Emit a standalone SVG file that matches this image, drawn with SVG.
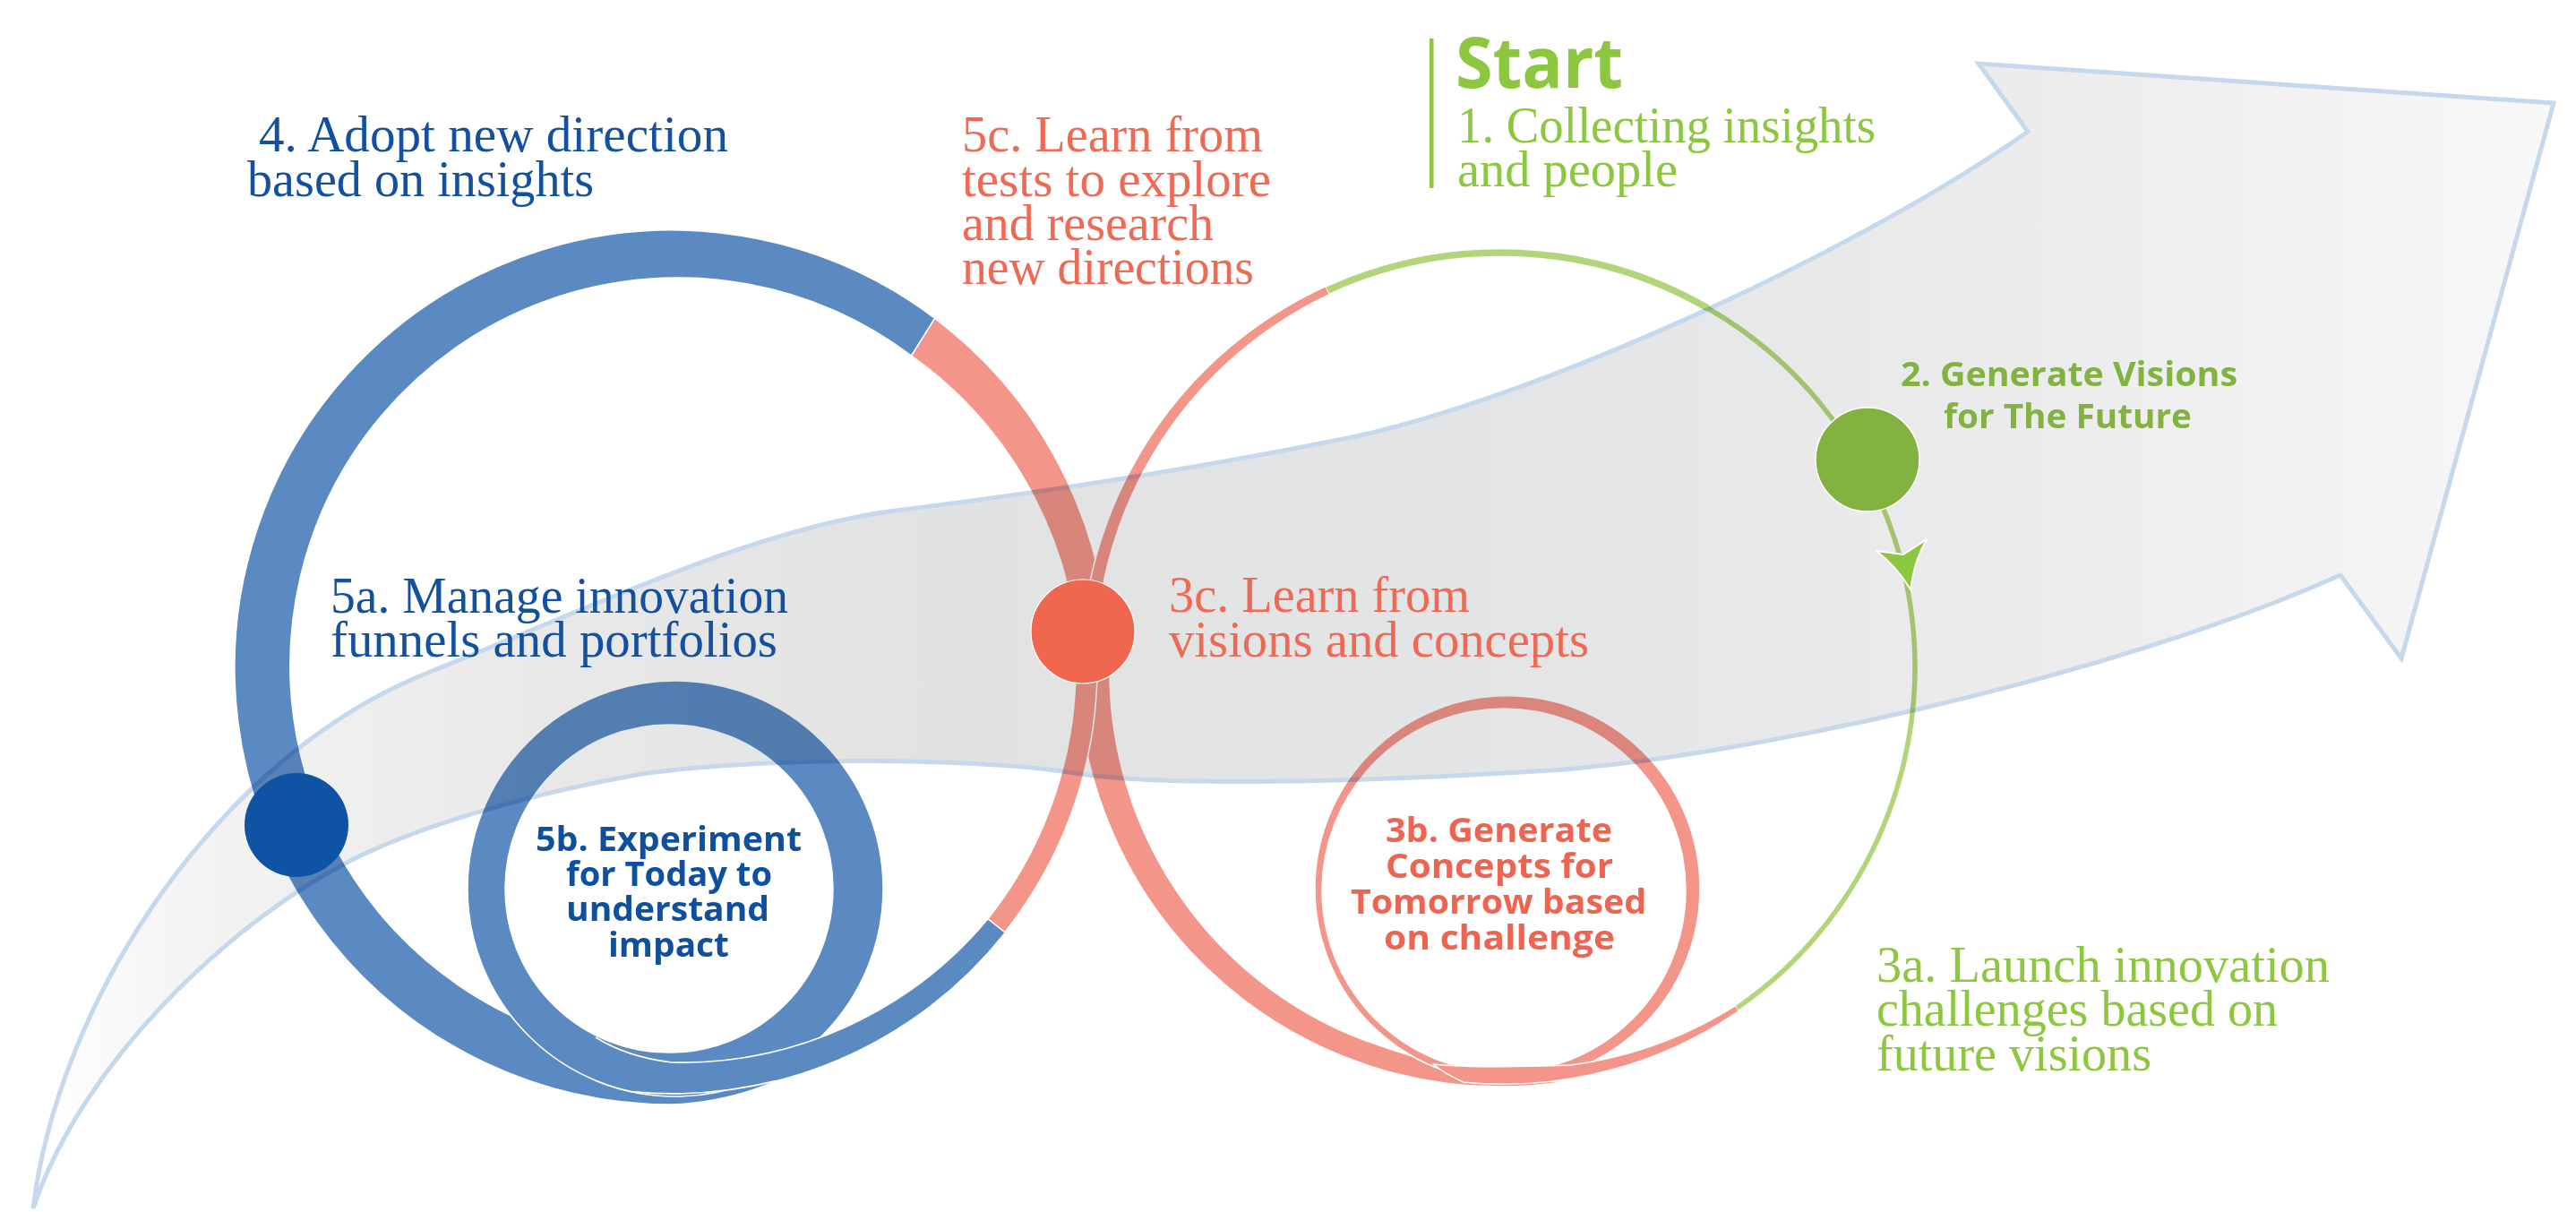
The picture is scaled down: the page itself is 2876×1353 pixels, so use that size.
<svg xmlns="http://www.w3.org/2000/svg" width="2876" height="1353" viewBox="0 0 2876 1353">
  <defs>
    <linearGradient id="arrowFill" gradientUnits="userSpaceOnUse" x1="37" y1="0" x2="2851" y2="0">
      <stop offset="0" stop-color="#ffffff"/>
      <stop offset="0.06" stop-color="#f4f4f4"/>
      <stop offset="0.2" stop-color="#e9e9ea"/>
      <stop offset="0.36" stop-color="#e1e2e2"/>
      <stop offset="0.6" stop-color="#e4e5e6"/>
      <stop offset="0.8" stop-color="#ececed"/>
      <stop offset="1" stop-color="#f8f8f8"/>
    </linearGradient>
  </defs>
  <style>
    .band { stroke: #ffffff; stroke-width: 1.5; stroke-linejoin: round; }
    .blue { fill: #5b8ac2; }
    .red { fill: #f4958a; }
    .seam { fill: none; stroke: #ffffff; stroke-width: 1.6; }
    .green-line { fill: none; stroke: #b2d57a; }
    .serif { font-family: 'Liberation Serif', 'Times New Roman', serif; font-size: 57px; }
    .label { font-family: 'Open Sans', 'Liberation Sans', sans-serif; font-weight: 700; font-size: 38px; }
    .title { font-family: 'Open Sans', 'Liberation Sans', sans-serif; font-weight: 700; font-size: 78px; }
    .t-blue { fill: #13509f; }
    .t-red { fill: #ee6a55; }
    .t-green { fill: #8dc63f; }
  </style>

  <rect width="2876" height="1353" fill="#ffffff"/>

  <!-- figure-eight loop and inner rings -->
  <g id="connectors">
    <!-- thick strand: left loop (blue), upper right (red) -->
    <path id="loop-left-outer" class="band blue" d="M1043.7,355.3 A488,488 0 1 0 750,1233 Q810,1231 866,1207 L832,1169.4 A433,433 0 1 1 1017.6,397.2 Z"/>
    <path id="loop-left-upper-red" class="band red" d="M1043.7,355.3 A488,488 0 0 1 1237.7,762 L1204.7,760.9 A445,445 0 0 0 1017.6,397.2 Z"/>
    <!-- thick strand continues on the right loop, lower left -->
    <path id="loop-right-lower-red" class="band red" d="M1203,741 A472,472 0 0 0 1748.8,1207.2 Q1655,1209 1523.5,1161.3 A440,440 0 0 1 1239,745 Z"/>

    <!-- inner rings -->
    <path id="ring-5b" class="band blue" fill-rule="evenodd" d="M522,992 A232,232 0 1 0 986,992 A232,232 0 1 0 522,992 Z M564,992 A183,183 0 1 0 930,992 A183,183 0 1 0 564,992 Z"/>
    <path id="ring-3b" class="band red" fill-rule="evenodd" d="M1468,992 A215,215 0 1 0 1898,992 A215,215 0 1 0 1468,992 Z M1476,994 A203,203 0 1 0 1882,994 A203,203 0 1 0 1476,994 Z"/>

    <!-- thin strand: left loop lower right -->
    <path id="loop-left-lower-blue" class="blue" d="M1121.7,1040.7 A475,475 0 0 1 705,1218.6 A232,232 0 0 1 665,1206.2 L665,1158 Q700,1180 750,1186 A446,446 0 0 0 1102.9,1025.7 Z"/>
    <path class="seam" d="M665,1158 Q700,1180 750,1186 A446,446 0 0 0 1102.9,1025.7"/>
    <path class="seam" d="M665,1206.2 A232,232 0 0 0 705,1218.6 A475,475 0 0 0 866,1206.6"/>
    <path id="loop-left-lower-red" class="band red" d="M1224.7,728.4 A475,475 0 0 1 1121.7,1040.7 L1102.9,1025.7 A451,451 0 0 0 1200.7,729.3 Z"/>

    <!-- thin strand: right loop upper left (red), top and right side (green), bottom (red) -->
    <path id="loop-right-upper-red" class="band red" d="M1207.3,728.7 A468,468 0 0 1 1480.2,319.5 L1484.3,328.6 A455,455 0 0 0 1223.3,729.2 Z"/>
    <path id="loop-right-bottom-red" class="band red" d="M1937.5,1122.7 L1941.5,1128.5 A465,465 0 0 1 1634.5,1208.2 Q1615,1200 1600,1188 Q1650,1193 1753.3,1189.1 A455,455 0 0 0 1937.5,1122.7 Z"/>
    <path class="green-line" stroke-width="7.5" d="M1482.3,324 A463,463 0 0 1 1906.5,344"/>
    <path class="green-line" stroke-width="5.5" d="M1906.5,344 A463,463 0 0 1 1939.2,1125.2"/>
  </g>

  <!-- large background arrow, laid over the loops -->
  <g id="direction-arrow" style="mix-blend-mode:multiply">
    <path d="M37,1349 C65,1120 240,845 480,750 C640,687 840,590 1000,570 C1170,549 1350,520 1500,490 C1700,450 2060,290 2264,147 L2209,71 L2851,115 L2681,735 L2613,642 C2360,755 1940,848 1715,861 C1600,868 1320,882 1200,863 C1080,844 820,845 700,867 C600,885 470,920 387,963 C250,1035 90,1190 37,1349 Z" fill="url(#arrowFill)" stroke="#c5d8ec" stroke-width="5"/>
  </g>

  <!-- arrowhead on the green path -->
  <g id="green-arrowhead">
    <path d="M2133.3,658.3 Q2117,632 2095,615 L2125,619 L2151.7,601.7 Q2137,625 2133.3,658.3 Z" fill="#8dc63f" stroke="#ffffff" stroke-width="2" stroke-linejoin="round"/>
  </g>

  <!-- steps -->
  <g id="step-start">
    <rect x="1596" y="43" width="4.5" height="167" fill="#8dc63f"/>
    <text class="title t-green" x="1625" y="98" textLength="187" lengthAdjust="spacingAndGlyphs">Start</text>
    <text class="serif t-green">
      <tspan x="1627" y="159" textLength="467" lengthAdjust="spacingAndGlyphs">1. Collecting insights</tspan>
      <tspan x="1627" y="208" textLength="246" lengthAdjust="spacingAndGlyphs">and people</tspan>
    </text>
  </g>

  <g id="step-2">
    <circle cx="2085" cy="513" r="58" fill="#82b341" stroke="#ffffff" stroke-width="1.5"/>
    <text class="label" fill="#82b341">
      <tspan x="2122" y="431" textLength="376" lengthAdjust="spacingAndGlyphs">2. Generate Visions</tspan>
      <tspan x="2170" y="478" textLength="277" lengthAdjust="spacingAndGlyphs">for The Future</tspan>
    </text>
  </g>

  <g id="step-3a">
    <text class="serif t-green">
      <tspan x="2095" y="1096" textLength="506" lengthAdjust="spacingAndGlyphs">3a. Launch innovation</tspan>
      <tspan x="2095" y="1145" textLength="448" lengthAdjust="spacingAndGlyphs">challenges based on</tspan>
      <tspan x="2095" y="1195" textLength="307" lengthAdjust="spacingAndGlyphs">future visions</tspan>
    </text>
  </g>

  <g id="step-3b">
    <text class="label" fill="#ef6450">
      <tspan x="1547" y="940" textLength="253" lengthAdjust="spacingAndGlyphs">3b. Generate</tspan>
      <tspan x="1547" y="980" textLength="254" lengthAdjust="spacingAndGlyphs">Concepts for</tspan>
      <tspan x="1508" y="1020" textLength="330" lengthAdjust="spacingAndGlyphs">Tomorrow based</tspan>
      <tspan x="1545" y="1060" textLength="258" lengthAdjust="spacingAndGlyphs">on challenge</tspan>
    </text>
  </g>

  <g id="step-3c">
    <circle cx="1209" cy="705" r="58" fill="#f0664f" stroke="#ffffff" stroke-width="1.2"/>
    <text class="serif t-red">
      <tspan x="1305" y="683" textLength="336" lengthAdjust="spacingAndGlyphs">3c. Learn from</tspan>
      <tspan x="1305" y="733" textLength="469" lengthAdjust="spacingAndGlyphs">visions and concepts</tspan>
    </text>
  </g>

  <g id="step-4">
    <text class="serif t-blue">
      <tspan x="289" y="169" textLength="524" lengthAdjust="spacingAndGlyphs">4. Adopt new direction</tspan>
      <tspan x="276" y="219" textLength="387" lengthAdjust="spacingAndGlyphs">based on insights</tspan>
    </text>
  </g>

  <g id="step-5a">
    <circle cx="331" cy="921" r="58" fill="#0e53a4"/>
    <text class="serif t-blue">
      <tspan x="369" y="684" textLength="511" lengthAdjust="spacingAndGlyphs">5a. Manage innovation</tspan>
      <tspan x="369" y="733" textLength="499" lengthAdjust="spacingAndGlyphs">funnels and portfolios</tspan>
    </text>
  </g>

  <g id="step-5b">
    <text class="label" fill="#0e4fa0">
      <tspan x="598" y="950" textLength="297" lengthAdjust="spacingAndGlyphs">5b. Experiment</tspan>
      <tspan x="632" y="989" textLength="230" lengthAdjust="spacingAndGlyphs">for Today to</tspan>
      <tspan x="632" y="1028" textLength="227" lengthAdjust="spacingAndGlyphs">understand</tspan>
      <tspan x="679" y="1068" textLength="135" lengthAdjust="spacingAndGlyphs">impact</tspan>
    </text>
  </g>

  <g id="step-5c">
    <text class="serif t-red">
      <tspan x="1074" y="169" textLength="336" lengthAdjust="spacingAndGlyphs">5c. Learn from</tspan>
      <tspan x="1074" y="219" textLength="345" lengthAdjust="spacingAndGlyphs">tests to explore</tspan>
      <tspan x="1074" y="268" textLength="281" lengthAdjust="spacingAndGlyphs">and research</tspan>
      <tspan x="1074" y="317" textLength="326" lengthAdjust="spacingAndGlyphs">new directions</tspan>
    </text>
  </g>
</svg>
